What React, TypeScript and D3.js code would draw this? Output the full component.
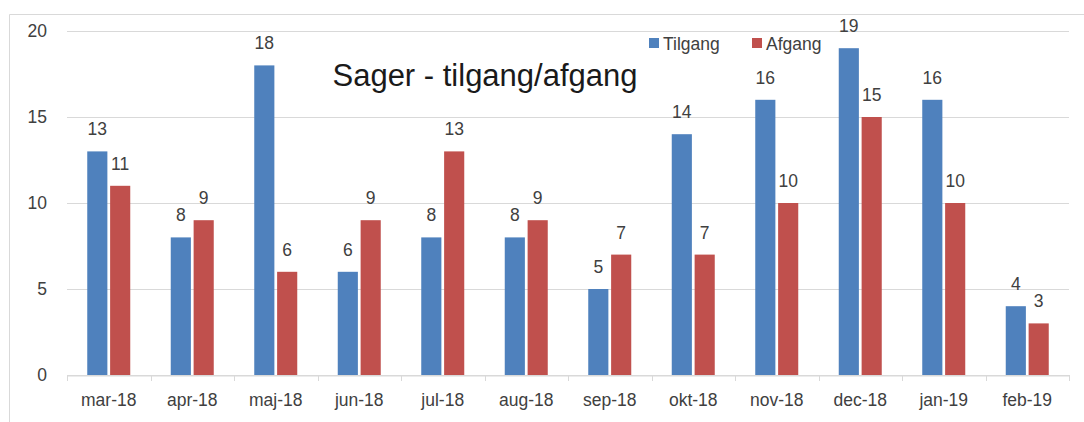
import React, { useRef, useEffect } from "react";
import * as d3 from "d3";

const months = ["mar-18", "apr-18", "maj-18", "jun-18", "jul-18", "aug-18", "sep-18", "okt-18", "nov-18", "dec-18", "jan-19", "feb-19"];
const tilgang = [13, 8, 18, 6, 8, 8, 5, 14, 16, 19, 16, 4];
const afgang = [11, 9, 6, 9, 13, 9, 7, 7, 10, 15, 10, 3];
const yTicks = [0, 5, 10, 15, 20];
const seriesNames = ["Tilgang", "Afgang"];
const colors = ["#4F81BD", "#C0504D"];

const App = () => {
  const ref = useRef<SVGSVGElement>(null);

  useEffect(() => {
    const width = 1084;
    const height = 422;
    const left = 67;
    const right = 1069;
    const top = 31;
    const bottom = 375;
    const font = "Liberation Sans, Arial, sans-serif";
    const fs = 17.5;

    const svg = d3.select(ref.current);
    svg.selectAll("*").remove();

    // rammen
    svg.append("path")
      .attr("d", `M9.5,${height} V14.5 H${width}`)
      .attr("fill", "none")
      .attr("stroke", "#D9D9D9");

    const x = d3.scaleBand().domain(months).range([left, right]);
    const y = d3.scaleLinear().domain([0, 20]).range([bottom, top]);

    // gitterlinjer
    svg.append("g")
      .selectAll("line")
      .data(yTicks)
      .join("line")
      .attr("x1", left)
      .attr("x2", right)
      .attr("y1", (d) => Math.round(y(d)) + 0.5)
      .attr("y2", (d) => Math.round(y(d)) + 0.5)
      .attr("stroke", "#D9D9D9");

    svg.append("g")
      .selectAll("text")
      .data(yTicks)
      .join("text")
      .attr("x", 47)
      .attr("y", (d) => y(d) + 6)
      .attr("text-anchor", "end")
      .attr("font-family", font)
      .attr("font-size", fs)
      .attr("fill", "#404040")
      .text((d) => d);

    // x-akse
    const xAxis = svg.append("g")
      .attr("transform", `translate(0,${Math.round(bottom) + 0.5})`)
      .call(d3.axisBottom(x).tickSize(0).tickPadding(18));
    xAxis.select(".domain").attr("stroke", "#D9D9D9");
    xAxis.selectAll("text")
      .attr("font-family", font)
      .attr("font-size", fs)
      .attr("fill", "#404040");
    svg.append("g")
      .selectAll("line")
      .data(d3.range(months.length + 1))
      .join("line")
      .attr("x1", (i) => Math.round(left + i * x.step()) + 0.5)
      .attr("x2", (i) => Math.round(left + i * x.step()) + 0.5)
      .attr("y1", bottom)
      .attr("y2", bottom + 6)
      .attr("stroke", "#D9D9D9");

    const inner = d3.scaleBand().domain(seriesNames).range([0, 43]).paddingInner(0.12);
    const offset = (x.bandwidth() - 43) / 2;
    const series = [tilgang, afgang];

    series.forEach((vals, si) => {
      const g = svg.append("g");
      g.selectAll("rect")
        .data(vals)
        .join("rect")
        .attr("x", (d, i) => x(months[i])! + offset + inner(seriesNames[si])!)
        .attr("y", (d) => y(d))
        .attr("width", inner.bandwidth())
        .attr("height", (d) => bottom - y(d))
        .attr("fill", colors[si]);
      g.selectAll("text")
        .data(vals)
        .join("text")
        .attr("x", (d, i) => x(months[i])! + offset + inner(seriesNames[si])! + inner.bandwidth() / 2)
        .attr("y", (d) => y(d) - 16)
        .attr("text-anchor", "middle")
        .attr("font-family", font)
        .attr("font-size", fs)
        .attr("fill", "#404040")
        .text((d) => d);
    });

    // titel
    svg.append("text")
      .attr("x", 485)
      .attr("y", 86)
      .attr("text-anchor", "middle")
      .attr("font-family", font)
      .attr("font-size", 31)
      .attr("fill", "#1a1a1a")
      .text("Sager - tilgang/afgang");

    // legende
    const legendX = [649, 752];
    seriesNames.forEach((name, i) => {
      svg.append("rect")
        .attr("x", legendX[i])
        .attr("y", 38)
        .attr("width", 10)
        .attr("height", 10)
        .attr("fill", colors[i]);
      svg.append("text")
        .attr("x", legendX[i] + 14)
        .attr("y", 50)
        .attr("font-family", font)
        .attr("font-size", fs)
        .attr("fill", "#404040")
        .text(name);
    });
  }, []);

  return (
    <svg ref={ref} width={1084} height={422} style={{ display: "block", position: "absolute", left: 0, top: 0, background: "#fff" }} />
  );
};

export default App;
